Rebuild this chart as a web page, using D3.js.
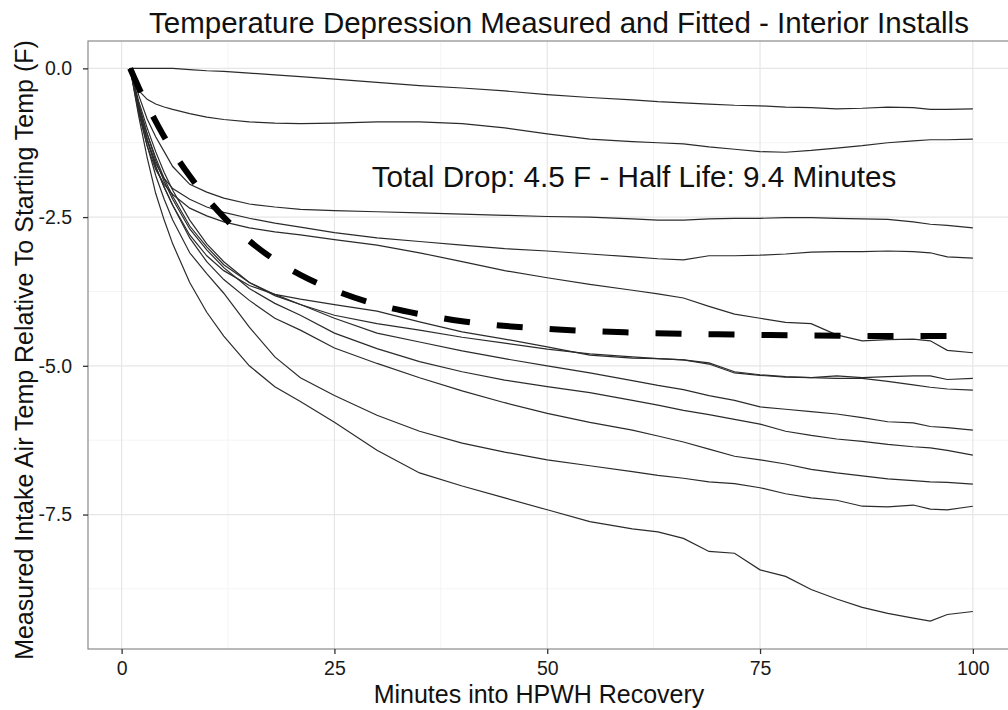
<!DOCTYPE html>
<html>
<head>
<meta charset="utf-8">
<title>Temperature Depression Measured and Fitted</title>
<style>
  body { margin: 0; background: #fff; }
  svg { display: block; font-family: "Liberation Sans", Arial, sans-serif; }
  .grid-major { stroke: #e6e6e6; stroke-width: 1.2; }
  .grid-minor { stroke: #f4f4f4; stroke-width: 1; }
  .run { fill: none; stroke: #2b2b2b; stroke-width: 1.2; }
  .fit { fill: none; stroke: #000; stroke-width: 6; stroke-dasharray: 26,27; }
  .axis text { font-size: 19.5px; fill: #1a1a1a; }
  .axis line { stroke: #333; }
  .axis path { display: none; }
</style>
</head>
<body>
<svg width="1008" height="710"></svg>
<script src="https://cdnjs.cloudflare.com/ajax/libs/d3/7.8.5/d3.min.js"></script>
<script>
// sample times (minutes into recovery) shared by every measured run
var minutes = [1, 2, 3, 4, 5, 6, 8, 10, 12, 15, 18, 21, 25, 30, 35, 40, 45, 50, 55, 60,
               63, 66, 69, 72, 75, 78, 81, 84, 87, 90, 93, 95, 97, 100];

// measured runs (deg F relative to start)
var run01 = [0, 0, 0, 0, 0, 0, -0.02, -0.04, -0.05, -0.08, -0.11, -0.14, -0.18, -0.235, -0.29, -0.33, -0.38, -0.44, -0.49, -0.53,
             -0.56, -0.58, -0.6, -0.62, -0.63, -0.65, -0.66, -0.68, -0.67, -0.65, -0.66, -0.69, -0.69, -0.68];
var run02 = [0, -0.37, -0.52, -0.6, -0.65, -0.69, -0.76, -0.82, -0.86, -0.9, -0.92, -0.93, -0.92, -0.9, -0.9, -0.93, -1.0, -1.1, -1.19, -1.23,
             -1.25, -1.27, -1.32, -1.36, -1.4, -1.41, -1.38, -1.34, -1.3, -1.25, -1.22, -1.2, -1.2, -1.19];
var run03 = [0, -0.45, -0.85, -1.15, -1.4, -1.65, -1.95, -2.08, -2.18, -2.28, -2.33, -2.37, -2.39, -2.41, -2.43, -2.45, -2.47, -2.49, -2.5, -2.53,
             -2.55, -2.55, -2.53, -2.52, -2.52, -2.51, -2.51, -2.52, -2.53, -2.54, -2.58, -2.62, -2.64, -2.68];
var run04 = [0, -0.7, -1.2, -1.6, -1.85, -2.02, -2.2, -2.33, -2.42, -2.52, -2.6, -2.67, -2.76, -2.85, -2.91, -2.97, -3.03, -3.07, -3.12, -3.17,
             -3.2, -3.22, -3.15, -3.15, -3.14, -3.12, -3.09, -3.08, -3.08, -3.07, -3.08, -3.1, -3.17, -3.19];
var run05 = [0, -0.75, -1.3, -1.7, -1.95, -2.12, -2.35, -2.48, -2.58, -2.68, -2.75, -2.8, -2.88, -2.97, -3.1, -3.25, -3.4, -3.52, -3.63, -3.73,
             -3.79, -3.86, -4.0, -4.13, -4.2, -4.27, -4.29, -4.48, -4.58, -4.56, -4.55, -4.58, -4.74, -4.78];
var run06 = [0, -0.65, -1.2, -1.65, -2.0, -2.3, -2.8, -3.15, -3.4, -3.65, -3.8, -3.88, -3.97, -4.08, -4.26, -4.43, -4.55, -4.68, -4.82, -4.87,
             -4.88, -4.9, -4.95, -5.1, -5.15, -5.18, -5.2, -5.17, -5.2, -5.18, -5.17, -5.17, -5.23, -5.21];
var run07 = [0, -0.55, -1.0, -1.4, -1.75, -2.05, -2.55, -2.95, -3.25, -3.6, -3.82, -3.97, -4.15, -4.29, -4.4, -4.52, -4.62, -4.72, -4.8, -4.85,
             -4.88, -4.9, -4.97, -5.12, -5.16, -5.19, -5.2, -5.21, -5.21, -5.26, -5.32, -5.36, -5.39, -5.41];
var run08 = [0, -0.6, -1.1, -1.5, -1.85, -2.15, -2.65, -3.0, -3.3, -3.6, -3.8, -3.97, -4.2, -4.45, -4.6, -4.75, -4.88, -5.0, -5.12, -5.25,
             -5.33, -5.4, -5.5, -5.58, -5.69, -5.73, -5.77, -5.81, -5.87, -5.94, -5.96, -6.02, -6.04, -6.08];
var run09 = [0, -0.6, -1.1, -1.55, -1.9, -2.2, -2.7, -3.05, -3.35, -3.7, -3.95, -4.15, -4.45, -4.71, -4.93, -5.1, -5.24, -5.35, -5.45, -5.58,
             -5.66, -5.75, -5.82, -5.9, -5.98, -6.1, -6.17, -6.23, -6.27, -6.32, -6.36, -6.38, -6.42, -6.5];
var run10 = [0, -0.65, -1.2, -1.65, -2.0, -2.3, -2.85, -3.25, -3.55, -3.9, -4.2, -4.4, -4.7, -4.96, -5.2, -5.42, -5.62, -5.8, -5.95, -6.08,
             -6.18, -6.28, -6.4, -6.52, -6.58, -6.65, -6.74, -6.8, -6.85, -6.9, -6.93, -6.95, -6.96, -6.99];
var run11 = [0, -0.7, -1.3, -1.8, -2.2, -2.55, -3.1, -3.45, -3.78, -4.35, -4.85, -5.2, -5.5, -5.83, -6.1, -6.3, -6.45, -6.58, -6.68, -6.78,
             -6.84, -6.89, -6.95, -6.98, -7.05, -7.15, -7.22, -7.26, -7.36, -7.37, -7.34, -7.41, -7.42, -7.36];
var run12 = [0, -0.8, -1.5, -2.1, -2.55, -2.95, -3.6, -4.1, -4.5, -5.0, -5.35, -5.6, -5.95, -6.42, -6.8, -7.02, -7.22, -7.42, -7.62, -7.74,
             -7.79, -7.9, -8.12, -8.15, -8.43, -8.54, -8.76, -8.92, -9.06, -9.16, -9.24, -9.29, -9.18, -9.13];

var runs = [run01, run02, run03, run04, run05, run06, run07, run08, run09, run10, run11, run12];

// fitted decay curve (dashed)
var fitMinutes = [1, 2, 3, 4, 5, 6, 8, 10, 12, 15, 18, 21, 25, 30, 35, 40, 50, 60, 70, 80, 90, 100];
var fitValues  = [0, -0.32, -0.62, -0.89, -1.15, -1.39, -1.81, -2.18, -2.5, -2.9, -3.22, -3.47, -3.73, -3.97, -4.13, -4.25, -4.38, -4.44, -4.47, -4.49, -4.5, -4.5];

var xTicks = [0, 25, 50, 75, 100];
var xMinor = [12.5, 37.5, 62.5, 87.5];
var yTicks = [0, -2.5, -5, -7.5];
var yTickLabels = ["0.0", "-2.5", "-5.0", "-7.5"];
var yMinor = [-1.25, -3.75, -6.25, -8.75];

var chartTitle = "Temperature Depression Measured and Fitted - Interior Installs";
var xTitle = "Minutes into HPWH Recovery";
var yTitle = "Measured Intake Air Temp Relative To Starting Temp (F)";
var note = "Total Drop: 4.5 F - Half Life: 9.4 Minutes";
var noteAt = [60.2, -1.84];

var svg = d3.select("svg");

var panel = {left: 88, top: 41, right: 1015, bottom: 649};

var x = d3.scaleLinear()
    .domain([-3.95, 104.95])
    .range([panel.left, panel.right]);

var y = d3.scaleLinear()
    .domain([-9.76, 0.46])
    .range([panel.bottom, panel.top]);

// grid
var grid = svg.append("g");
grid.selectAll(".vminor").data(xMinor).enter().append("line")
    .attr("class", "grid-minor")
    .attr("x1", function(d) { return x(d); }).attr("x2", function(d) { return x(d); })
    .attr("y1", panel.top).attr("y2", panel.bottom);
grid.selectAll(".hminor").data(yMinor).enter().append("line")
    .attr("class", "grid-minor")
    .attr("x1", panel.left).attr("x2", panel.right)
    .attr("y1", function(d) { return y(d); }).attr("y2", function(d) { return y(d); });
grid.selectAll(".vmajor").data(xTicks).enter().append("line")
    .attr("class", "grid-major")
    .attr("x1", function(d) { return x(d); }).attr("x2", function(d) { return x(d); })
    .attr("y1", panel.top).attr("y2", panel.bottom);
grid.selectAll(".hmajor").data(yTicks).enter().append("line")
    .attr("class", "grid-major")
    .attr("x1", panel.left).attr("x2", panel.right)
    .attr("y1", function(d) { return y(d); }).attr("y2", function(d) { return y(d); });

// measured runs
var line = d3.line()
    .x(function(d, i) { return x(minutes[i]); })
    .y(function(d) { return y(d); });

svg.selectAll(".run")
    .data(runs)
  .enter().append("path")
    .attr("class", "run")
    .attr("d", line);

// fitted curve
var fitLine = d3.line()
    .curve(d3.curveMonotoneX)
    .x(function(d, i) { return x(fitMinutes[i]); })
    .y(function(d) { return y(d); });

svg.append("path")
    .datum(fitValues)
    .attr("class", "fit")
    .attr("d", fitLine);

// panel border
svg.append("rect")
    .attr("x", panel.left).attr("y", panel.top)
    .attr("width", panel.right - panel.left).attr("height", panel.bottom - panel.top)
    .attr("fill", "none").attr("stroke", "#8a8a8a").attr("stroke-width", 1.2);

// axes
svg.append("g")
    .attr("class", "axis")
    .attr("transform", "translate(0," + panel.bottom + ")")
    .call(d3.axisBottom(x).tickValues(xTicks).tickSize(5).tickPadding(7)
      .tickFormat(d3.format("d")));

svg.append("g")
    .attr("class", "axis")
    .attr("transform", "translate(" + panel.left + ",0)")
    .call(d3.axisLeft(y).tickValues(yTicks).tickSize(5).tickPadding(11)
      .tickFormat(function(d, i) { return yTickLabels[i]; }));

svg.selectAll(".axis .tick line").attr("stroke", "#333").attr("stroke-width", 1.3);

// annotation
svg.append("text")
    .attr("x", x(noteAt[0])).attr("y", y(noteAt[1]) + 9)
    .attr("text-anchor", "middle")
    .style("font-size", "29.7px").style("fill", "#111")
    .text(note);

// titles
svg.append("text")
    .attr("x", 559).attr("y", 33)
    .attr("text-anchor", "middle")
    .style("font-size", "29.5px").style("fill", "#111")
    .text(chartTitle);

svg.append("text")
    .attr("x", 539).attr("y", 703)
    .attr("text-anchor", "middle")
    .style("font-size", "25px").style("fill", "#111")
    .text(xTitle);

svg.append("text")
    .attr("transform", "translate(33,350) rotate(-90)")
    .attr("text-anchor", "middle")
    .style("font-size", "25px").style("fill", "#111")
    .text(yTitle);
</script>
</body>
</html>
